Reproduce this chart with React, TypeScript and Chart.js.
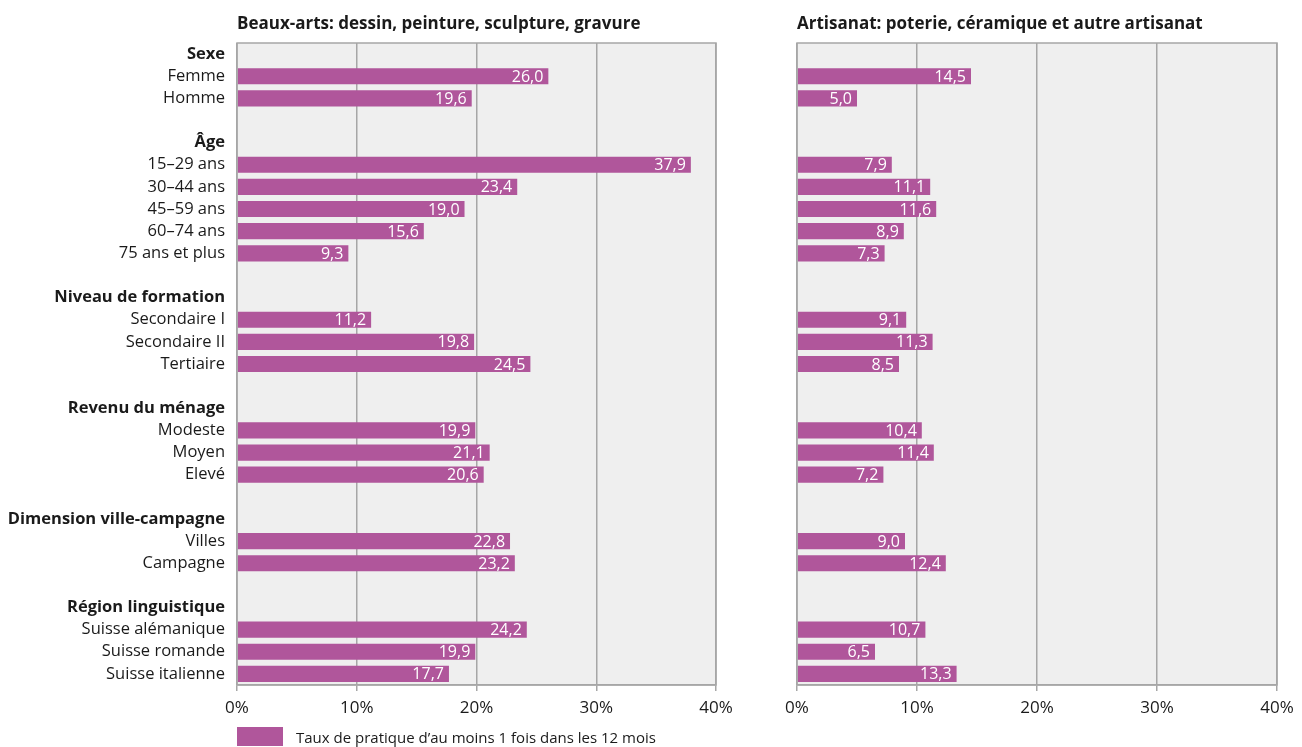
import React, { useEffect, useRef } from "react";
import { Chart, registerables } from "chart.js";

Chart.register(...registerables);

const categories: string[] = [
  "Sexe", "Femme", "Homme", "",
  "Âge", "15–29 ans", "30–44 ans", "45–59 ans", "60–74 ans", "75 ans et plus", "",
  "Niveau de formation", "Secondaire I", "Secondaire II", "Tertiaire", "",
  "Revenu du ménage", "Modeste", "Moyen", "Elevé", "",
  "Dimension ville-campagne", "Villes", "Campagne", "",
  "Région linguistique", "Suisse alémanique", "Suisse romande", "Suisse italienne",
];

const groupHeaders: string[] = [
  "Sexe", "Âge", "Niveau de formation", "Revenu du ménage", "Dimension ville-campagne", "Région linguistique",
];

const beauxArts: (number | null)[] = [
  null, 26.0, 19.6, null,
  null, 37.9, 23.4, 19.0, 15.6, 9.3, null,
  null, 11.2, 19.8, 24.5, null,
  null, 19.9, 21.1, 20.6, null,
  null, 22.8, 23.2, null,
  null, 24.2, 19.9, 17.7,
];

const artisanat: (number | null)[] = [
  null, 14.5, 5.0, null,
  null, 7.9, 11.1, 11.6, 8.9, 7.3, null,
  null, 9.1, 11.3, 8.5, null,
  null, 10.4, 11.4, 7.2, null,
  null, 9.0, 12.4, null,
  null, 10.7, 6.5, 13.3,
];

const xTicks: number[] = [0, 10, 20, 30, 40];

const panelTitles = [
  "Beaux-arts: dessin, peinture, sculpture, gravure",
  "Artisanat: poterie, céramique et autre artisanat",
];
const legendLabel = "Taux de pratique d’au moins 1 fois dans les 12 mois";

const FONT = "'Open Sans', 'Noto Sans', sans-serif";
const BAR = "#b0569b";
const GRID = "#a6a6a6";
const PLOT_BG = "#efefef";
const TEXT = "#1a1a1a";

function fmt(v: number) {
  return v.toFixed(1).replace(".", ",");
}

function makeConfig(values: (number | null)[], title: string, withLabels: boolean, leftPad: number, rightPad: number): any {
  const plugin = {
    id: "decor",
    beforeDraw(chart: any) {
      const { ctx, chartArea: a } = chart;
      ctx.save();
      ctx.fillStyle = PLOT_BG;
      ctx.fillRect(a.left, a.top, a.right - a.left, a.bottom - a.top);
      ctx.restore();
    },
    afterDatasetsDraw(chart: any) {
      const { ctx, chartArea: a } = chart;
      const meta = chart.getDatasetMeta(0);
      const data = chart.data.datasets[0].data;
      ctx.save();
      ctx.font = `16px ${FONT}`;
      ctx.fillStyle = "#ffffff";
      ctx.textAlign = "right";
      ctx.textBaseline = "middle";
      meta.data.forEach((el: any, i: number) => {
        const v = data[i];
        if (v == null) return;
        ctx.fillText(fmt(v), el.x - 5, el.y + 1);
      });
      ctx.strokeStyle = GRID;
      ctx.lineWidth = 1.5;
      ctx.strokeRect(a.left, a.top, a.right - a.left, a.bottom - a.top);
      ctx.font = `bold 17px ${FONT}`;
      ctx.fillStyle = TEXT;
      ctx.textAlign = "left";
      ctx.textBaseline = "middle";
      ctx.fillText(title, a.left, 24);
      ctx.restore();
    },
  };

  return {
    type: "bar",
    data: {
      labels: categories,
      datasets: [
        {
          label: legendLabel,
          data: values,
          backgroundColor: BAR,
          borderWidth: 0,
          barPercentage: 0.73,
          categoryPercentage: 1,
        },
      ],
    },
    options: {
      indexAxis: "y",
      responsive: false,
      animation: false,
      layout: { padding: { left: leftPad, right: rightPad, top: 43, bottom: 32 } },
      plugins: {
        legend: { display: false },
        tooltip: { enabled: false },
        title: { display: false },
      },
      scales: {
        x: {
          min: 0,
          max: 40,
          afterBuildTicks(scale: any) {
            scale.ticks = xTicks.map((v) => ({ value: v }));
          },
          afterFit(scale: any) {
            scale.height = 30;
          },
          grid: {
            color: GRID,
            lineWidth: 1.5,
            tickLength: 6,
            drawTicks: true,
          },
          border: { display: true, color: GRID, width: 1.5 },
          ticks: {
            padding: 7,
            color: TEXT,
            font: { family: FONT, size: 17 },
            callback: (v: any) => `${v}%`,
            maxRotation: 0,
          },
        },
        y: {
          display: withLabels,
          afterFit(scale: any) {
            scale.width = withLabels ? 237 : 0;
          },
          grid: { display: false },
          border: { display: false },
          ticks: {
            padding: 4,
            color: TEXT,
            autoSkip: false,
            font: (ctx: any) => ({
              family: FONT,
              size: 16.5,
              weight: groupHeaders.includes(categories[ctx.index]) ? "bold" : "normal",
            }),
          },
        },
      },
    },
    plugins: [plugin],
  };
}

function Panel(props: { values: (number | null)[]; title: string; withLabels: boolean; left: number; width: number; leftPad: number; rightPad: number }) {
  const ref = useRef<HTMLCanvasElement | null>(null);
  useEffect(() => {
    if (!ref.current) return;
    const chart = new Chart(ref.current, makeConfig(props.values, props.title, props.withLabels, props.leftPad, props.rightPad));
    return () => chart.destroy();
  }, []);
  return (
    <canvas
      ref={ref}
      width={props.width}
      height={747}
      style={{ position: "absolute", left: props.left, top: 0, width: props.width, height: 747 }}
    />
  );
}

export default function App() {
  return (
    <div style={{ position: "fixed", left: 0, top: 0, width: 1302, height: 747, background: "#fff", overflow: "hidden" }}>
      <Panel values={beauxArts} title={panelTitles[0]} withLabels={true} left={0} width={740} leftPad={0} rightPad={24} />
      <Panel values={artisanat} title={panelTitles[1]} withLabels={false} left={760} width={542} leftPad={37} rightPad={25} />
      <div style={{ position: "absolute", left: 237, top: 727, width: 46, height: 19, background: BAR }} />
      <div
        style={{
          position: "absolute",
          left: 296,
          top: 726,
          height: 22,
          lineHeight: "22px",
          fontFamily: FONT,
          fontSize: 15,
          color: TEXT,
          whiteSpace: "nowrap",
        }}
      >
        {legendLabel}
      </div>
    </div>
  );
}
